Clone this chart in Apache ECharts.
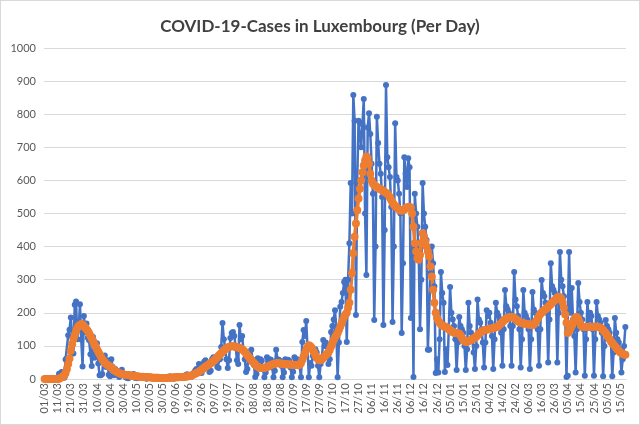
<!DOCTYPE html>
<html>
<head>
<meta charset="utf-8">
<script src="https://cdn.jsdelivr.net/npm/echarts@6/dist/echarts.min.js"></script>
<style>
  html, body { margin: 0; padding: 0; background: #fff; }
  #chart { width: 638px; height: 423px; border: 1px solid #d9d9d9; }
</style>
</head>
<body>
<div id="chart"></div>
<script>
// daily new cases, one line per week (weeks start on Sunday, 01/03/2020)
const dailyCases = [
  0, 0, 0, 0, 0, 0, 1,
  0, 1, 2, 3, 16, 12, 21,
  18, 4, 59, 63, 132, 149, 186,
  128, 77, 224, 234, 120, 152, 226,
  119, 38, 190, 141, 168, 125, 117,
  75, 39, 127, 64, 81, 108, 47,
  11, 11, 15, 66, 71, 36, 57,
  13, 8, 60, 36, 11, 30, 16,
  12, 6, 12, 28, 15, 13, 5,
  3, 2, 9, 10, 10, 15, 4,
  3, 2, 4, 7, 6, 10, 4,
  2, 1, 3, 5, 6, 3, 4,
  2, 3, 5, 2, 4, 6, 2,
  1, 2, 4, 3, 5, 8, 3,
  2, 1, 6, 5, 9, 7, 6,
  3, 4, 8, 12, 14, 10, 8,
  6, 10, 18, 25, 30, 27, 45,
  20, 18, 45, 52, 57, 48, 35,
  21, 25, 60, 66, 55, 58, 36,
  33, 60, 97, 169, 120, 95, 60,
  33, 57, 124, 139, 142, 130, 100,
  57, 45, 163, 120, 130, 88, 60,
  21, 30, 80, 70, 88, 58, 42,
  6, 15, 63, 50, 60, 55, 30,
  5, 20, 66, 55, 60, 58, 35,
  5, 25, 88, 60, 58, 55, 40,
  5, 20, 60, 45, 58, 55, 35,
  5, 22, 66, 55, 60, 50, 38,
  5, 112, 148, 130, 175, 90, 5,
  48, 40, 70, 66, 90, 80, 40,
  5, 45, 66, 118, 100, 110, 80,
  45, 60, 142, 160, 180, 208, 150,
  5, 110, 218, 233, 260, 293, 300,
  112, 300, 410, 592, 500, 858, 780,
  193, 600, 780, 775, 700, 770, 846,
  500, 314, 760, 803, 740, 650, 560,
  178, 400, 792, 713, 650, 620, 550,
  163, 450, 888, 670, 640, 610, 520,
  172, 400, 773, 610, 600, 560, 500,
  139, 350, 670, 620, 580, 667, 640,
  184, 400, 6, 560, 500, 460, 380,
  150, 300, 592, 500, 460, 420, 88,
  88, 320, 400, 350, 280, 18, 60,
  20, 120, 323, 260, 230, 21, 90,
  42, 150, 278, 200, 180, 160, 120,
  27, 110, 187, 160, 150, 140, 100,
  27, 90, 230, 160, 140, 120, 80,
  30, 100, 240, 180, 170, 150, 110,
  35, 110, 208, 190, 200, 170, 130,
  30, 120, 230, 200, 190, 180, 140,
  40, 150, 269, 220, 210, 200, 160,
  40, 160, 323, 240, 220, 190, 150,
  35, 120, 269, 200, 190, 180, 150,
  30, 120, 263, 210, 200, 180, 150,
  40, 150, 299, 260, 250, 230, 200,
  50, 180, 350, 280, 270, 260, 230,
  50, 200, 384, 300, 280, 250, 200,
  6, 10, 384, 200, 275, 180, 130,
  20, 150, 290, 233, 200, 180, 150,
  10, 120, 233, 178, 200, 190, 150,
  10, 120, 233, 190, 180, 170, 140,
  8, 100, 178, 160, 150, 140, 110,
  8, 80, 184, 140, 120, 110, 90,
  20, 60, 100, 157
];

// smoothed (weekly average) line
const weeklyAverage = [
  0, 0, 0, 0, 0, 0, 0,
  0, 0, 0, 0, 1, 3, 5,
  8, 10, 18, 30, 45, 62, 85,
  105, 120, 132, 145, 155, 160, 163,
  166, 165, 160, 155, 150, 145, 138,
  130, 122, 115, 105, 98, 90, 82,
  75, 68, 60, 55, 50, 45, 42,
  40, 38, 35, 30, 27, 24, 22,
  20, 18, 16, 15, 14, 13, 12,
  12, 12, 11, 10, 10, 9, 9,
  8, 8, 7, 7, 6, 6, 6,
  6, 5, 5, 5, 5, 4, 4,
  4, 4, 4, 4, 3, 3, 3,
  3, 3, 3, 4, 4, 4, 4,
  4, 5, 5, 5, 5, 6, 6,
  6, 6, 7, 7, 8, 8, 9,
  10, 12, 14, 16, 18, 20, 22,
  25, 28, 31, 34, 37, 40, 42,
  45, 48, 50, 54, 58, 62, 66,
  70, 74, 78, 82, 86, 90, 93,
  95, 97, 98, 99, 99, 98, 97,
  96, 95, 94, 92, 90, 86, 82,
  77, 72, 67, 62, 57, 52, 48,
  44, 40, 37, 35, 34, 33, 33,
  34, 35, 36, 38, 40, 42, 44,
  45, 46, 47, 48, 48, 47, 46,
  46, 45, 45, 45, 44, 44, 44,
  43, 43, 42, 42, 42, 42, 43,
  48, 58, 68, 78, 88, 96, 102,
  100, 95, 88, 80, 72, 65, 60,
  57, 57, 60, 64, 68, 72, 76,
  80, 88, 98, 108, 118, 126, 132,
  139, 148, 158, 168, 178, 188, 195,
  200, 215, 230, 270, 320, 380, 430,
  470, 510, 545, 575, 600, 625, 645,
  660, 672, 668, 650, 620, 600, 590,
  585, 582, 580, 577, 575, 573, 570,
  568, 565, 562, 560, 555, 548, 540,
  533, 527, 522, 520, 515, 512, 510,
  508, 510, 512, 515, 518, 520, 520,
  518, 500, 460, 410, 385, 365, 360,
  375, 410, 440, 430, 415, 400, 385,
  370, 340, 310, 270, 230, 200, 185,
  175, 170, 165, 162, 160, 158, 157,
  153, 150, 148, 145, 142, 140, 139,
  138, 138, 137, 132, 125, 118, 115,
  112, 112, 114, 116, 118, 120, 122,
  125, 128, 132, 136, 140, 143, 146,
  147, 148, 149, 150, 151, 152, 153,
  154, 155, 156, 157, 160, 164, 168,
  172, 176, 180, 183, 185, 186, 187,
  187, 186, 184, 181, 178, 175, 172,
  170, 169, 168, 168, 167, 166, 165,
  164, 163, 163, 165, 170, 176, 183,
  190, 196, 201, 205, 208, 211, 214,
  218, 222, 226, 230, 234, 238, 242,
  246, 248, 247, 243, 232, 215, 195,
  170, 139, 145, 152, 160, 170, 180,
  186, 187, 182, 172, 162, 158, 157,
  157, 157, 158, 158, 157, 157, 157,
  158, 158, 158, 157, 156, 155, 152,
  148, 143, 139, 133, 126, 120, 114,
  109, 104, 99, 94, 89, 85, 81,
  78, 76, 74, 73
];

const yTicks = [0, 100, 200, 300, 400, 500, 600, 700, 800, 900, 1000];

// one category per day starting 01/03/2020, labelled dd/mm
const days = [];
const d = new Date(2020, 2, 1);
for (let i = 0; i < dailyCases.length; i++) {
  const dd = String(d.getDate()).padStart(2, '0');
  const mm = String(d.getMonth() + 1).padStart(2, '0');
  days.push(dd + '/' + mm);
  d.setDate(d.getDate() + 1);
}

const chart = echarts.init(document.getElementById('chart'));
chart.setOption({
  animation: false,
  textStyle: { fontFamily: 'Lato, "Liberation Sans", sans-serif' },
  title: {
    text: 'COVID-19-Cases in Luxembourg (Per Day)',
    left: 'center',
    top: 12,
    textStyle: { fontSize: 17, fontWeight: 'bold', color: '#404040', fontFamily: 'Lato, sans-serif' }
  },
  grid: { left: 43, right: 13, top: 47, bottom: 45 },
  xAxis: {
    type: 'category',
    data: days,
    boundaryGap: true,
    axisLine: { lineStyle: { color: '#d9d9d9' } },
    axisTick: { show: false },
    axisLabel: {
      interval: 9,
      rotate: 90,
      color: '#595959',
      fontSize: 11,
      margin: 4
    }
  },
  yAxis: {
    type: 'value',
    min: yTicks[0],
    max: yTicks[yTicks.length - 1],
    interval: 100,
    axisLine: { show: false },
    axisTick: { show: false },
    splitLine: { lineStyle: { color: '#d9d9d9' } },
    axisLabel: { color: '#595959', fontSize: 11, margin: 8, formatter: v => String(v) }
  },
  series: [
    {
      name: 'Cases',
      type: 'line',
      data: dailyCases,
      symbol: 'circle',
      symbolSize: 6,
      showAllSymbol: true,
      lineStyle: { color: '#4472c4', width: 2.5 },
      itemStyle: { color: '#4472c4' }
    },
    {
      name: 'Average',
      type: 'line',
      data: weeklyAverage,
      symbol: 'circle',
      symbolSize: 8,
      showAllSymbol: true,
      lineStyle: { color: '#ed7d31', width: 3.5 },
      itemStyle: { color: '#ed7d31' }
    }
  ]
});
</script>
</body>
</html>
